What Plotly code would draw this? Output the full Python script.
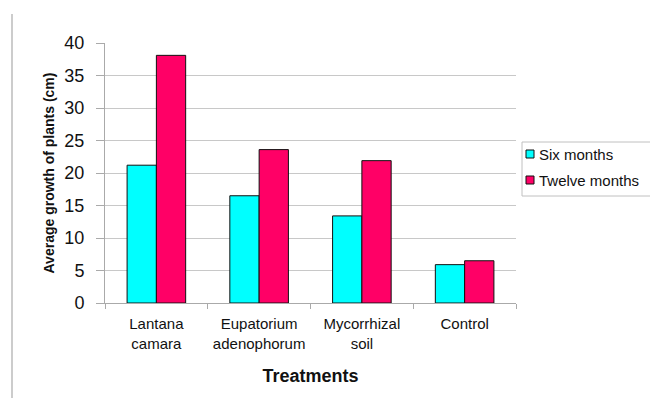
import plotly.graph_objects as go

categories = ["Lantana<br>camara", "Eupatorium<br>adenophorum", "Mycorrhizal<br>soil", "Control"]
series_names = ["Six months", "Twelve months"]
six_months = [21.2, 16.5, 13.4, 5.9]
twelve_months = [38.1, 23.6, 21.9, 6.5]
y_ticks = [0, 5, 10, 15, 20, 25, 30, 35, 40]
colors = ["#00FFFF", "#FF0066"]

FONT = "Liberation Sans, Arial, sans-serif"

# plot area in pixels
L, R, T, B = 105, 516, 43, 303
W, H = 650, 398


def px(x):
    return (x - L) / (R - L)


def py(y):
    return (B - y) / (B - T)


fig = go.Figure()
for name, vals, col in zip(series_names, [six_months, twelve_months], colors):
    fig.add_trace(go.Bar(x=categories, y=vals, name=name, showlegend=False,
                         marker=dict(color=col, line=dict(color="#111111", width=1))))

fig.update_layout(
    width=W, height=H,
    margin=dict(l=L, r=W - R, t=T, b=H - B, autoexpand=False),
    paper_bgcolor="white", plot_bgcolor="white",
    barmode="group", bargap=0.43, bargroupgap=0,
    font=dict(family=FONT, color="#111111"),
    showlegend=False,
)
fig.update_xaxes(
    showline=True, linecolor="#AAAAAA", linewidth=1, mirror=False,
    ticks="outside", tickson="boundaries", tickcolor="#AAAAAA", ticklen=5,
    tickfont=dict(size=15, family=FONT), ticklabelstandoff=7,
    title=dict(text="<b>Treatments</b>", font=dict(size=18, family=FONT), standoff=18),
)
fig.update_yaxes(
    range=[0, 40], tickvals=y_ticks,
    showgrid=True, gridcolor="#C8C8C8", gridwidth=1,
    showline=True, linecolor="#AAAAAA", linewidth=1,
    ticks="outside", tickcolor="#AAAAAA", ticklen=8, ticklabelstandoff=8,
    tickfont=dict(size=18, family=FONT),
    title=dict(text="<b>Average growth of plants (cm)</b>", font=dict(size=14, family=FONT), standoff=6),
    zeroline=False,
)

# thin frame line along the left edge of the chart area
fig.add_shape(type="line", xref="paper", yref="paper",
              x0=px(12), x1=px(12), y0=py(14), y1=py(H),
              line=dict(color="#BBBBBB", width=1.5))

# legend box with colour keys
fig.add_shape(type="rect", xref="paper", yref="paper",
              x0=px(522), x1=px(660), y0=py(142), y1=py(196),
              line=dict(color="#C0C0C0", width=1), fillcolor="white")
for i, (name, col) in enumerate(zip(series_names, colors)):
    cy = 154 + i * 26
    fig.add_shape(type="rect", xref="paper", yref="paper",
                  x0=px(526), x1=px(534), y0=py(cy - 4), y1=py(cy + 4),
                  line=dict(color="#111111", width=1), fillcolor=col)
    fig.add_annotation(text=name, xref="paper", yref="paper",
                       x=px(537), y=py(cy), xanchor="left", yanchor="middle",
                       showarrow=False, font=dict(size=15, family=FONT, color="#111111"))

fig.write_html("out.html")
